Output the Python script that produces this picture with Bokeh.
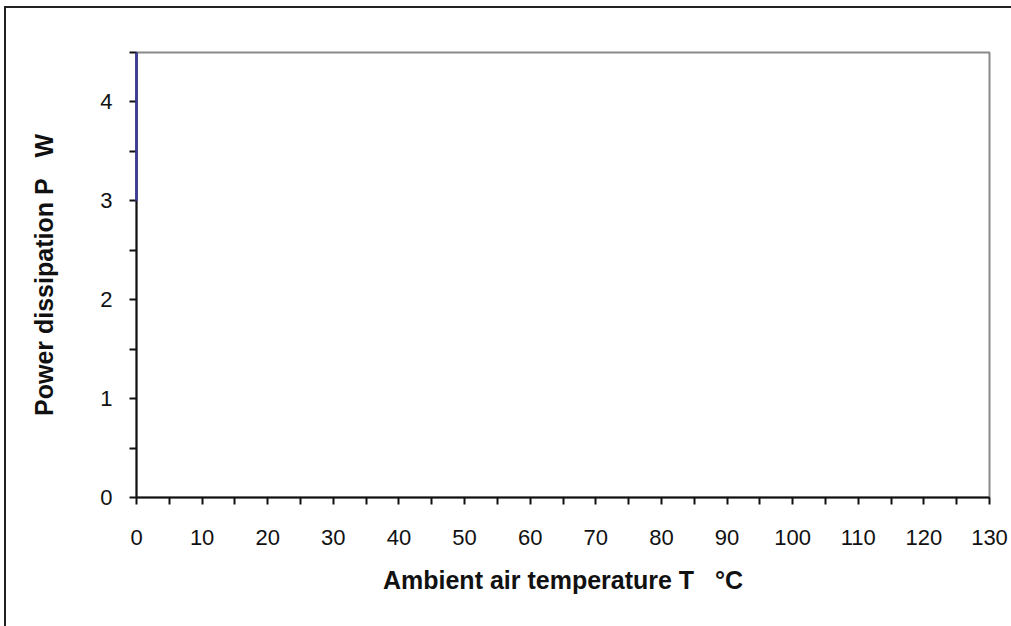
from bokeh.plotting import figure
from bokeh.models import FixedTicker, Range1d
from bokeh.embed import file_html
from bokeh.resources import INLINE

# Data
temperature = [0, 0]
power = [3.0, 4.5]
x_major = [0, 10, 20, 30, 40, 50, 60, 70, 80, 90, 100, 110, 120, 130]
x_minor = [5, 15, 25, 35, 45, 55, 65, 75, 85, 95, 105, 115, 125]
y_major = [0, 1, 2, 3, 4]
y_minor = [0.5, 1.5, 2.5, 3.5, 4.5]

FONT = "Liberation Sans"
SP = "\u00a0"

p = figure(output_backend="svg", toolbar_location=None,
           frame_width=853, frame_height=445,
           width=1005, height=618,
           min_border_left=130, min_border_right=22,
           min_border_top=44, min_border_bottom=129,
           x_range=Range1d(0, 130), y_range=Range1d(0, 4.5))
p.styles = {"border-left": "2px solid #222", "border-top": "2px solid #222",
            "border-right": "2px solid #bdbdbd", "border-bottom": "none",
            "margin-left": "4px", "margin-top": "6px"}

p.line(temperature, power, line_color="#3b3b9e", line_width=2.5, level="overlay")

p.grid.visible = False
p.outline_line_color = "#8a8a8a"
p.outline_line_width = 2

for ax in (p.xaxis[0], p.yaxis[0]):
    ax.axis_line_color = "#111111"
    ax.axis_line_width = 2
    ax.major_tick_line_color = "#111111"
    ax.major_tick_line_width = 2
    ax.minor_tick_line_color = "#111111"
    ax.minor_tick_line_width = 2
    ax.major_tick_out = 7
    ax.major_tick_in = 0
    ax.minor_tick_out = 7
    ax.minor_tick_in = 0
    ax.major_label_text_font = FONT
    ax.major_label_text_font_size = "22px"
    ax.major_label_text_color = "#111111"
    ax.axis_label_text_font = FONT
    ax.axis_label_text_font_size = "25px"
    ax.axis_label_text_font_style = "bold"
    ax.axis_label_text_color = "#111111"

p.xaxis.ticker = FixedTicker(ticks=x_major, minor_ticks=x_minor)
p.yaxis.ticker = FixedTicker(ticks=y_major, minor_ticks=y_minor)
p.xaxis.axis_label = "Ambient air temperature T" + SP * 3 + "°C"
p.yaxis.axis_label = "Power dissipation P" + SP * 3 + "W"
p.xaxis.major_label_standoff = 25
p.yaxis.major_label_standoff = 17
p.xaxis.axis_label_standoff = 18
p.yaxis.axis_label_standoff = 39

open("out.html", "w").write(file_html(p, INLINE))
